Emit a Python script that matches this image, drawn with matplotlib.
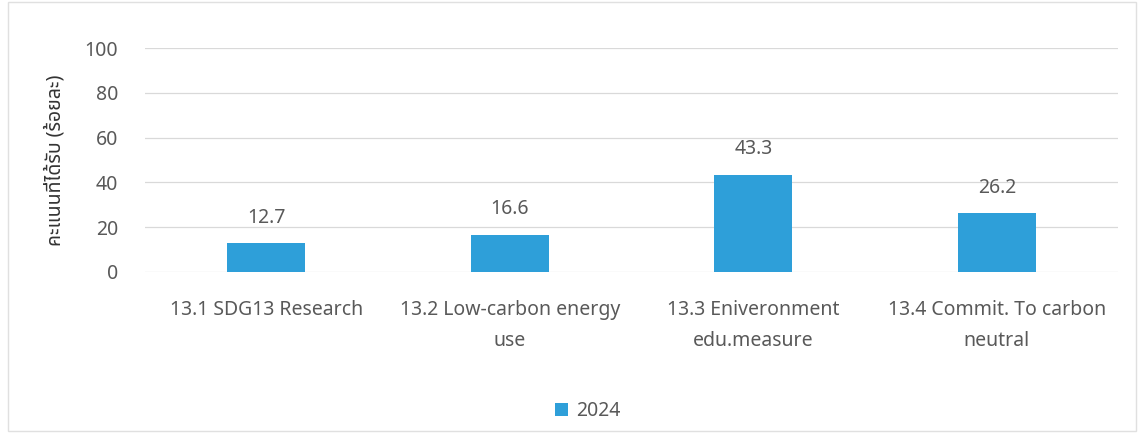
import matplotlib
matplotlib.use("Agg")
from matplotlib import pyplot as plt
from matplotlib.patches import Rectangle

plt.rcParams['font.family'] = ['Noto Sans Thai', 'Noto Sans', 'DejaVu Sans']

categories = ["13.1 SDG13 Research", "13.2 Low-carbon energy\nuse",
              "13.3 Eniveronment\nedu.measure", "13.4 Commit. To carbon\nneutral"]
values_2024 = [12.7, 16.6, 43.3, 26.2]
yticks = [0, 20, 40, 60, 80, 100]

bar_color = "#2e9fd9"
text_color = "#595959"

fig = plt.figure(figsize=(11.39, 4.33), dpi=100)
ax = fig.add_axes([0.127, 0.372, 0.855, 0.517])

x = range(len(categories))
bars = ax.bar(x, values_2024, width=0.32, color=bar_color, label="2024", zorder=3)
for b, v in zip(bars, values_2024):
    ax.text(b.get_x() + b.get_width() / 2, v + 7, f"{v}", ha="center", va="bottom",
            fontsize=14, color=text_color)

ax.set_ylim(0, 100)
ax.set_xlim(-0.5, len(categories) - 0.5)
ax.set_yticks(yticks)
ax.set_xticks(list(x))
ax.set_xticklabels(categories, fontsize=14, color=text_color, linespacing=1.75)
ax.tick_params(axis="y", labelsize=14, labelcolor=text_color, length=0, pad=19)
ax.tick_params(axis="x", length=0, pad=20)
ax.grid(axis="y", color="#d9d9d9", linewidth=0.9, zorder=0)
for s in ax.spines.values():
    s.set_visible(False)

ax.set_ylabel("คะแนนที่ได้รับ (ร้อยละ)", fontsize=14, fontweight="bold",
              color="#333333", labelpad=14)

ax.legend(loc="upper center", bbox_to_anchor=(0.455, -0.5), frameon=False,
          fontsize=14, handlelength=0.7, handleheight=0.7, handletextpad=0.4,
          labelcolor=text_color)

fig.patches.append(Rectangle((0.007, 0.005), 0.99, 0.99, transform=fig.transFigure,
                             fill=False, edgecolor="#e0e0e0", linewidth=1))

fig.savefig("out.png", dpi=100)
